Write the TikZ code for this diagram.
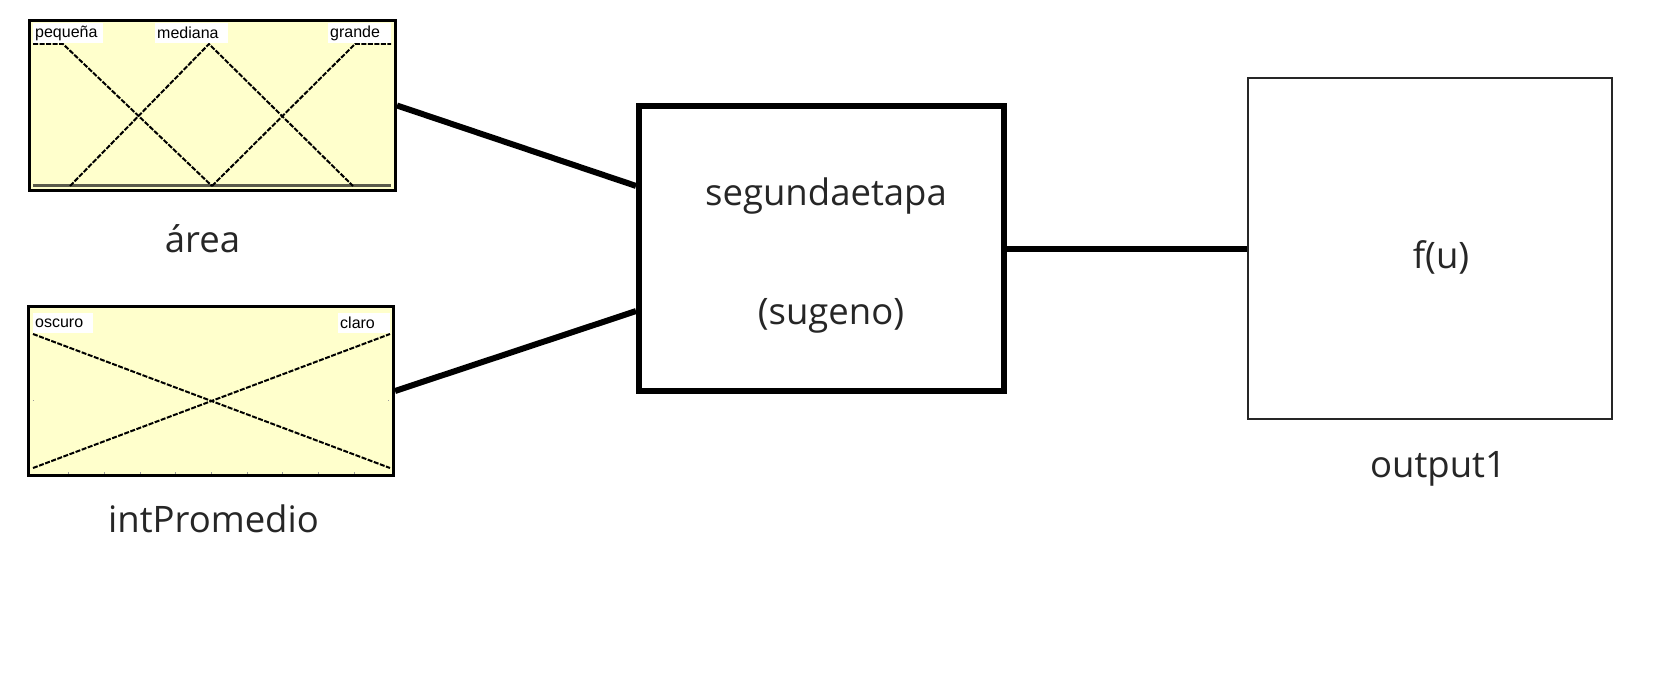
\documentclass[tikz,border=0pt]{standalone}
\usepackage{fontspec}
\setmainfont{Open Sans}
\newfontfamily\mffont{Liberation Sans}
\usetikzlibrary{positioning,calc}
\definecolor{MFPanel}{HTML}{FFFFCC}
\definecolor{MFBase}{HTML}{5A5A4A}
\definecolor{MFTick}{HTML}{9A9A9A}

\begin{document}
\begin{tikzpicture}[x=1pt,y=-1pt,
  mfbox/.style={draw=black,line width=3pt,fill=MFPanel,inner sep=0pt},
  fisbox/.style={draw=black,line width=6pt,fill=white,inner sep=0pt,minimum width=365pt,minimum height=285pt},
  outbox/.style={draw=black!85,line width=2pt,fill=white,inner sep=0pt,minimum width=364pt,minimum height=341pt},
  wire/.style={line width=6pt,black},
  mfline/.style={line width=2pt,dash pattern=on 5pt off 1.5pt,black},
  mflabel/.style={fill=white,anchor=north west,inner xsep=2pt,inner ysep=0pt,minimum height=20pt,font=\mffont\fontsize{16}{16}\selectfont,align=left},
  caption/.style={anchor=base,font=\fontsize{36.5}{42}\selectfont,text=black!85},
]
\useasboundingbox (0,0) rectangle (1672,687);
\fill[white] (0,0) rectangle (1672,687);

% input variables
\node[mfbox,minimum width=366pt,minimum height=170pt] (area) at (212.5,105.5) {};
\node[mfbox,minimum width=365pt,minimum height=169pt] (intprom) at (211,391) {};

% membership functions of area
\draw[MFBase,line width=3pt] (33,186) -- (391,186);
\draw[mfline] (33,44) -- (63,44) -- (212,186);
\draw[mfline] (70,186) -- (209,44) -- (353,186);
\draw[mfline] (212,186) -- (355,44) -- (391,44);
\node[mflabel,text width=66pt] (pequena) at (33,23) {pequeña};
\node[mflabel,text width=69pt] (mediana) at (155,23) {mediana};
\node[mflabel,text width=59pt] (grande) at (328,23) {grande};

% membership functions of intPromedio
\foreach \k in {1,...,9}
  \fill[MFTick] ({32.5+\k*35.7},472) rectangle +(1,2);
\fill[MFTick] (33,400) rectangle +(1,1);
\fill[MFTick] (388,400) rectangle +(1,1);
\draw[mfline] (33,334) -- (390,468);
\draw[mfline] (33,468) -- (390,334);
\node[mflabel,text width=56pt] (oscuro) at (33,313) {oscuro};
\node[mflabel,text width=48pt] (claro) at (338,313) {claro};

\node[caption] (arealabel) at (202.5,252) {área};
\node[caption] (intlabel) at (213.5,532) {intPromedio};

% inference system and output
\node[fisbox] (fis) at (821.5,248.5) {};
\node[caption] (fisname) at (826,205) {segundaetapa};
\node[caption] (fistype) at (831,324) {(sugeno)};
\node[outbox] (out) at (1430,248.5) {};
\node[caption] (outfun) at (1441,268) {f(u)};
\node[caption] (outname) at (1438,477) {output1};

\draw[wire] (area.east) -- ($(fis.north west)!0.285!(fis.south west)$);
\draw[wire] (intprom.east) -- ($(fis.north west)!0.715!(fis.south west)$);
\draw[wire] (fis.east) -- (out.west);
\end{tikzpicture}
\end{document}
